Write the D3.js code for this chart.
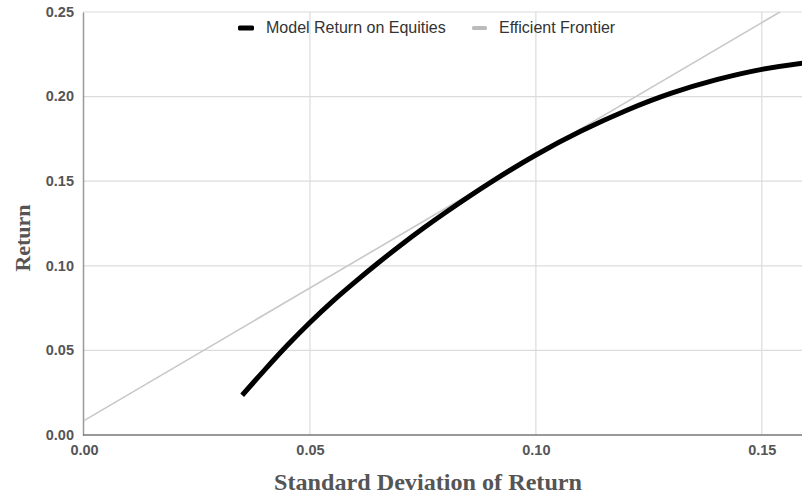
<!DOCTYPE html>
<html><head><meta charset="utf-8">
<script src="https://cdn.jsdelivr.net/npm/d3@7/dist/d3.min.js"></script>
<style>body{margin:0;background:#fff}svg{display:block}</style>
</head><body>
<svg id="c" width="802" height="497"></svg>
<script>
const modelStd = [0.035,0.040,0.045,0.050,0.055,0.060,0.065,0.070,0.075,0.080,0.090,0.100,0.110,0.120,0.130,0.140,0.150,0.160];
const modelRet = [0.0235,0.0385,0.0530,0.0665,0.0790,0.0905,0.1015,0.1120,0.1220,0.1315,0.1493,0.1655,0.1796,0.1918,0.2020,0.2100,0.2161,0.2201];
const frontierStd = [0.0, 0.16];
const frontierRet = [0.0085, 0.2594];
const xTicks = [0.00,0.05,0.10,0.15];
const yTicks = [0.00,0.05,0.10,0.15,0.20,0.25];
const seriesNames = ["Model Return on Equities","Efficient Frontier"];

const svg = d3.select("#c");
const x = d3.scaleLinear().domain([0,0.16]).range([84,807]);
const y = d3.scaleLinear().domain([0,0.25]).range([435,12]);

svg.append("defs").append("clipPath").attr("id","clip")
  .append("rect").attr("x",83).attr("y",12).attr("width",719).attr("height",423);

// grid
svg.append("g").selectAll("line").data(yTicks.filter(d=>d>0)).join("line")
  .attr("x1",83).attr("x2",802).attr("y1",d=>y(d)).attr("y2",d=>y(d))
  .attr("stroke","#dcdcdc").attr("stroke-width",1.2);
svg.append("g").selectAll("line").data(xTicks.filter(d=>d>0)).join("line")
  .attr("y1",12).attr("y2",435).attr("x1",d=>x(d)).attr("x2",d=>x(d))
  .attr("stroke","#dcdcdc").attr("stroke-width",1.2);

// axes
const yAxis = svg.append("g").attr("transform","translate(83,0)")
  .call(d3.axisLeft(y).tickValues(yTicks).tickFormat(d3.format(".2f")).tickSize(0).tickPadding(9));
yAxis.select(".domain").attr("stroke","#999").attr("stroke-width",1.5);
yAxis.selectAll("text").attr("font-family","Arial, Liberation Sans, sans-serif").attr("font-size",14.5).attr("font-weight","bold").attr("fill","#555").attr("dy","0.3em");

const xAxis = svg.append("g").attr("transform","translate(0,435)")
  .call(d3.axisBottom(x).tickValues(xTicks).tickFormat(d3.format(".2f")).tickSize(0).tickPadding(10));
xAxis.select(".domain").attr("stroke","#777").attr("stroke-width",1.5).attr("d","M83,0H802");
xAxis.selectAll("text").attr("font-family","Arial, Liberation Sans, sans-serif").attr("font-size",14.5).attr("font-weight","bold").attr("fill","#555");

// lines
const plot = svg.append("g").attr("clip-path","url(#clip)");
const fr = frontierStd.map((s,i)=>[s,frontierRet[i]]);
plot.append("path").datum(fr)
  .attr("d",d3.line().x(d=>x(d[0])).y(d=>y(d[1])))
  .attr("fill","none").attr("stroke","#c8c8c8").attr("stroke-width",1.6);
const md = modelStd.map((s,i)=>[s,modelRet[i]]);
plot.append("path").datum(md)
  .attr("d",d3.line().x(d=>x(d[0])).y(d=>y(d[1])).curve(d3.curveCatmullRom))
  .attr("fill","none").attr("stroke","#000").attr("stroke-width",5).attr("stroke-linecap","butt");

// legend
const leg = svg.append("g");
leg.append("rect").attr("x",238).attr("y",25.5).attr("width",16).attr("height",5).attr("rx",1.5).attr("fill","#000");
leg.append("text").attr("x",266).attr("y",33).text(seriesNames[0]);
leg.append("rect").attr("x",472).attr("y",26).attr("width",15).attr("height",4).attr("rx",1.5).attr("fill","#bbb");
leg.append("text").attr("x",499).attr("y",33).text(seriesNames[1]);
leg.selectAll("text").attr("font-family","Arial, Liberation Sans, sans-serif").attr("font-size",16).attr("fill","#333");

// titles
svg.append("text").attr("x",428).attr("y",490).attr("text-anchor","middle")
  .attr("font-family","Times New Roman, Liberation Serif, serif").attr("font-weight","bold").attr("font-size",23).attr("fill","#555")
  .attr("textLength",308).attr("lengthAdjust","spacingAndGlyphs")
  .text("Standard Deviation of Return");
svg.append("text").attr("transform","translate(30,238) rotate(-90)").attr("text-anchor","middle")
  .attr("font-family","Times New Roman, Liberation Serif, serif").attr("font-weight","bold").attr("font-size",22).attr("fill","#555")
  .text("Return");
</script>
</body></html>
